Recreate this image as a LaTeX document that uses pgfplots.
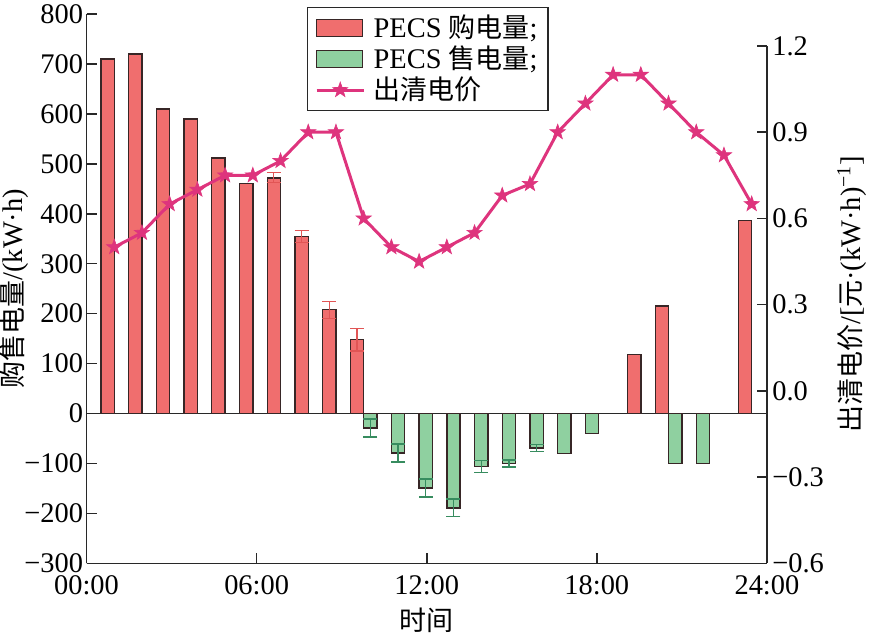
\documentclass[border=0pt]{standalone}
\usepackage{pgfplots}
\pgfplotsset{compat=1.18}
\usepackage{fontspec}
\setmainfont{Liberation Serif}
\newfontfamily\cjk{Noto Sans CJK SC}[Scale=0.95]

\definecolor{barred}{RGB}{240,110,110}
\definecolor{bargreen}{RGB}{143,208,160}
\definecolor{edgec}{RGB}{55,38,38}
\definecolor{errred}{RGB}{225,85,85}
\definecolor{errgreen}{RGB}{55,140,95}
\definecolor{linec}{RGB}{222,52,125}
\definecolor{axisc}{RGB}{40,40,40}

\pgfdeclareplotmark{fstar}{%
  \pgfpathmoveto{\pgfpointpolar{90}{\pgfplotmarksize}}%
  \pgfpathlineto{\pgfpointpolar{126}{0.40\pgfplotmarksize}}%
  \pgfpathlineto{\pgfpointpolar{162}{\pgfplotmarksize}}%
  \pgfpathlineto{\pgfpointpolar{198}{0.40\pgfplotmarksize}}%
  \pgfpathlineto{\pgfpointpolar{234}{\pgfplotmarksize}}%
  \pgfpathlineto{\pgfpointpolar{270}{0.40\pgfplotmarksize}}%
  \pgfpathlineto{\pgfpointpolar{306}{\pgfplotmarksize}}%
  \pgfpathlineto{\pgfpointpolar{342}{0.40\pgfplotmarksize}}%
  \pgfpathlineto{\pgfpointpolar{18}{\pgfplotmarksize}}%
  \pgfpathlineto{\pgfpointpolar{54}{0.40\pgfplotmarksize}}%
  \pgfpathclose
  \pgfusepathqfillstroke
}

\pgfplotsset{
  barlegend/.style={legend image code/.code={\draw[##1,/tikz/.cd] (0pt,-4.2pt) rectangle (23pt,4.2pt);}},
  starlegend/.style={legend image code/.code={\draw[mark repeat=2,mark phase=2,##1] plot coordinates {(0pt,0pt) (11.75pt,0pt) (23.5pt,0pt)};}},
}

\begin{document}
\begin{tikzpicture}[font=\fontsize{14.2}{17}\selectfont]
\begin{axis}[
  scale only axis, width=340pt, height=274.5pt,
  at={(0,0)}, anchor=south west,
  xmin=0, xmax=24.55, ymin=-300, ymax=800,
  axis x line*=bottom, axis y line*=left,
  axis line style={draw=axisc, line width=0.8pt, -},
  tick align=inside, major tick length=5pt,
  xtick={0,6.1375,12.275,18.4125,24.55},
  xticklabels={00:00,06:00,12:00,18:00,24:00},
  ytick={-300,-200,-100,0,100,200,300,400,500,600,700,800},
  yticklabels={−300,−200,−100,0,100,200,300,400,500,600,700,800},
  tick style={draw=axisc, line width=0.8pt},
  minor tick num=0,
  tick label style={font=\fontsize{14.2}{17}\selectfont},
  yticklabel style={inner xsep=1.5pt, inner ysep=0pt},
  xticklabel style={inner xsep=0pt, inner ysep=6pt},
  xlabel={\cjk 时间},
  xlabel style={inner sep=0.5pt},
  ylabel={{\cjk 购售电量}/(kW·h)},
  ylabel style={at={(axis description cs:-0.106,0.5)}, anchor=center, inner sep=0pt},
  legend style={at={(0.3235,1.0128)}, anchor=north west, draw=axisc,
    line width=0.6pt, font=\fontsize{14.2}{17}\selectfont,
    nodes={inner sep=1.2pt}, inner xsep=4pt, inner ysep=2.5pt, column sep=3pt, row sep=0.3pt},
  legend cell align=left,
  clip=false,
]
\addplot[forget plot, draw=axisc, line width=0.8pt] coordinates {(0,0) (24.55,0)};
\addplot[ybar, bar width=0.48, bar shift=0pt, fill=barred, draw=edgec, line width=0.7pt, barlegend]
coordinates {(0.76,710) (1.76,720) (2.76,610) (3.76,590) (4.76,512) (5.76,460)
 (6.76,472) (7.76,354) (8.76,208) (9.76,148) (19.76,118) (20.76,215) (23.76,387)};
\addlegendentry{PECS {\cjk 购电量};}
\addplot[ybar, bar width=0.48, bar shift=0pt, fill=bargreen, draw=edgec, line width=0.7pt, barlegend]
coordinates {(10.24,-29) (11.24,-79) (12.24,-149) (13.24,-189) (14.24,-106) (15.24,-100)
 (16.24,-69) (17.24,-80) (18.24,-40) (21.24,-100) (22.24,-100)};
\addlegendentry{PECS {\cjk 售电量};}
\addlegendimage{linec, line width=1.5pt, mark=fstar, mark size=4pt,
  mark options={solid, fill=linec, draw=linec, line width=0.3pt}, starlegend}
\addlegendentry{\cjk 出清电价}
% error bars
\addplot[forget plot, draw=none, mark=none,
  error bars/.cd, y dir=both, y explicit,
  error bar style={draw=errred, line width=0.6pt},
  error mark options={rotate=90, draw=errred, mark size=3.5pt, line width=0.6pt}]
coordinates {(6.76,472) +- (0,10) (7.76,354) +- (0,12) (8.76,208) +- (0,17) (9.76,148) +- (0,23)};
\addplot[forget plot, draw=none, mark=none,
  error bars/.cd, y dir=both, y explicit,
  error bar style={draw=errgreen, line width=0.6pt},
  error mark options={rotate=90, draw=errgreen, mark size=3.5pt, line width=0.6pt}]
coordinates {(10.24,-29) +- (0,18) (11.24,-79) +- (0,18) (12.24,-149) +- (0,18)
 (13.24,-189) +- (0,18) (14.24,-106) +- (0,12) (15.24,-100) +- (0,7) (16.24,-69) +- (0,7.5)};
\path (rel axis cs:0,1) ++(0pt,7pt);
\end{axis}
\begin{axis}[
  scale only axis, width=340pt, height=258.5pt,
  at={(0,0)}, anchor=south west,
  xmin=0, xmax=24.55, ymin=-0.6, ymax=1.2,
  axis x line=none, axis y line*=right,
  axis line style={draw=axisc, line width=0.8pt, -},
  tick align=inside, major tick length=5pt,
  ytick={-0.6,-0.3,0,0.3,0.6,0.9,1.2},
  yticklabels={−0.6,−0.3,0.0,0.3,0.6,0.9,1.2},
  tick style={draw=axisc, line width=0.8pt},
  minor tick num=0,
  tick label style={font=\fontsize{14.2}{17}\selectfont},
  yticklabel style={inner xsep=2.5pt, inner ysep=0pt},
  ylabel={{\cjk 出清电价}/[{\cjk 元}·(kW·h)\textsuperscript{−1}]},
  ylabel style={at={(axis description cs:1.125,0.52)}, anchor=center, inner sep=0pt},
  clip=false,
]
\addplot[linec, line width=1.5pt, mark=fstar, mark size=4pt,
  mark options={solid, fill=linec, draw=linec, line width=0.3pt}]
coordinates {(1,0.5) (2,0.55) (3,0.65) (4,0.7) (5,0.75) (6,0.75) (7,0.8) (8,0.9)
 (9,0.9) (10,0.6) (11,0.5) (12,0.45) (13,0.5) (14,0.55) (15,0.68) (16,0.72)
 (17,0.9) (18,1.0) (19,1.1) (20,1.1) (21,1.0) (22,0.9) (23,0.82) (24,0.65)};
\path (rel axis cs:1,0.5) ++(62pt,0pt);
\end{axis}
\end{tikzpicture}
\end{document}
